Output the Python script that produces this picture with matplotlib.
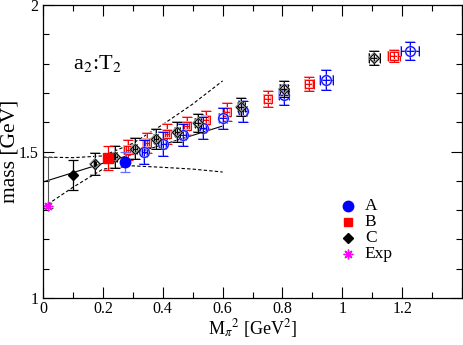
import matplotlib
matplotlib.use("Agg")
import matplotlib.pyplot as plt
from matplotlib.ticker import MultipleLocator, FuncFormatter

plt.rcParams['font.family'] = ['Liberation Serif', 'DejaVu Serif']
plt.rcParams['mathtext.fontset'] = 'stix'

# open symbols: ensemble A (blue circles)
a_x = [0.338, 0.402, 0.468, 0.535, 0.602, 0.669, 0.806, 0.946, 1.227]
a_y = [1.498, 1.526, 1.556, 1.580, 1.614, 1.638, 1.693, 1.744, 1.843]
a_xerr = [0.008, 0.009, 0.010, 0.011, 0.013, 0.014, 0.017, 0.022, 0.030]
a_yerr = [0.040, 0.040, 0.038, 0.038, 0.036, 0.036, 0.035, 0.033, 0.032]

# ensemble B (red squares)
b_x = [0.284, 0.347, 0.414, 0.480, 0.545, 0.614, 0.750, 0.890, 1.173]
b_y = [1.505, 1.529, 1.560, 1.587, 1.608, 1.635, 1.679, 1.730, 1.826]
b_xerr = [0.006, 0.007, 0.008, 0.009, 0.010, 0.011, 0.013, 0.016, 0.020]
b_yerr = [0.035, 0.035, 0.033, 0.032, 0.030, 0.030, 0.027, 0.025, 0.022]

# ensemble C (black diamonds)
c_x = [0.174, 0.241, 0.308, 0.378, 0.448, 0.518, 0.662, 0.806, 1.107]
c_y = [1.457, 1.481, 1.509, 1.543, 1.567, 1.597, 1.652, 1.713, 1.819]
c_xerr = [0.004, 0.005, 0.006, 0.007, 0.008, 0.009, 0.012, 0.014, 0.018]
c_yerr = [0.038, 0.037, 0.036, 0.034, 0.033, 0.032, 0.030, 0.028, 0.024]

# filled symbols (chiral extrapolated values)
fa_x, fa_y, fa_err = 0.274, 1.464, 0.035
fb_x, fb_y, fb_err = 0.217, 1.478, 0.042
fc_x, fc_y, fc_err = 0.100, 1.420, 0.051

# experiment and extrapolation to physical point
exp_x, exp_y = 0.0150, 1.314
phys_x, phys_y, phys_err = 0.0150, 1.394, 0.087

# linear fit and its error band
fit_x = [0.0, 0.6]
fit_y = [1.396, 1.587]
band_x = [0.0, 0.1, 0.2, 0.3, 0.4, 0.5, 0.6]
band_hi = [1.481, 1.479, 1.485, 1.528, 1.592, 1.662, 1.741]
band_lo = [1.309, 1.378, 1.440, 1.451, 1.446, 1.440, 1.430]

legend_labels = ['A', 'B', 'C', 'Exp']
legend_colors = ['#0000ff', '#ff0000', 'black', '#ff00ff']

fig = plt.figure(figsize=(4.63, 3.45), dpi=100)
ax = fig.add_axes([0.093, 0.1362, 0.905, 0.8493])

ax.plot(fit_x, fit_y, color='black', lw=0.8)
ax.plot(band_x, band_hi, color='black', lw=0.8, ls=(0, (3, 2)))
ax.plot(band_x, band_lo, color='black', lw=0.8, ls=(0, (3, 2)))

ax.errorbar([phys_x], [phys_y], yerr=[phys_err], fmt='none', ecolor='#555555',
            elinewidth=0.8, capsize=3.5, capthick=0.8)


def open_set(xs, ys, xe, ye, marker, col, pale, ms):
    ax.errorbar(xs, ys, xerr=xe, yerr=ye, fmt='none', ecolor=pale,
                elinewidth=1.3, capsize=3.6, capthick=1.3)
    ax.errorbar(xs, ys, xerr=xe, yerr=ye, fmt='none', ecolor=col,
                elinewidth=0.7, capsize=3.3, capthick=0.7)
    ax.plot(xs, ys, ls='none', marker=marker, ms=ms, mfc='none', mec=pale, mew=1.4)
    ax.plot(xs, ys, ls='none', marker=marker, ms=ms, mfc='none', mec=col, mew=0.7)


open_set(b_x, b_y, b_xerr, b_yerr, 's', '#ff0000', '#ffa0a0', 6)
open_set(a_x, a_y, a_xerr, a_yerr, 'o', '#0000ff', '#a0a0ff', 7)
open_set(c_x, c_y, c_xerr, c_yerr, 'D', '#000000', '#a0a0a0', 5)

ax.errorbar([fc_x], [fc_y], yerr=[fc_err], fmt='D', color='black', ms=5.5,
            elinewidth=0.9, capsize=3.5, capthick=0.9)
ax.errorbar([fb_x], [fb_y], yerr=[fb_err], fmt='s', color='#ff0000', ms=6.5,
            elinewidth=0.9, capsize=3.5, capthick=0.9)
ax.errorbar([fa_x], [fa_y], yerr=[fa_err], fmt='o', color='#0000ff', ms=7.5,
            ecolor='#6a6aff', elinewidth=0.9, capsize=3.5, capthick=0.9)
ax.plot([exp_x], [exp_y], ls='none', marker=(8, 2, 0), ms=7, color='#ff00ff', mew=1)

ax.text(0.1, 1.80, r'a$_2$:T$_2$', fontsize=16, va='center', ha='left')

# legend, drawn by hand
leg_markers = ['o', 's', 'D', (8, 2, 0)]
leg_sizes = [7.5, 5.5, 5.5, 7]
leg_y = [0.314, 0.259, 0.206, 0.150]
for lab, col, mk, sz, yy in zip(legend_labels, legend_colors, leg_markers, leg_sizes, leg_y):
    ax.plot([0.728], [yy], transform=ax.transAxes, ls='none', marker=mk, ms=sz,
            color=col, mew=1, clip_on=False)
    ax.text(0.768, yy, lab, transform=ax.transAxes, fontsize=12.5, va='center', ha='left')

ax.set_xlim(0, 1.4)
ax.set_ylim(1, 2)
ax.xaxis.set_major_locator(MultipleLocator(0.2))
ax.xaxis.set_minor_locator(MultipleLocator(0.1))
ax.yaxis.set_major_locator(MultipleLocator(0.5))
ax.yaxis.set_minor_locator(MultipleLocator(0.1))
fmt = FuncFormatter(lambda v, p: ('%g' % round(v, 2)) if v < 1.39 else '')
ax.xaxis.set_major_formatter(fmt)
ax.yaxis.set_major_formatter(FuncFormatter(lambda v, p: '%g' % round(v, 2)))
ax.tick_params(which='both', direction='in', top=True, right=True, labelsize=11.5)
ax.tick_params(which='major', length=8, width=0.8)
ax.tick_params(which='minor', length=4, width=0.8)
ax.tick_params(axis='x', pad=2)
for s in ax.spines.values():
    s.set_linewidth(0.9)

ax.set_xlabel(r'M$_\pi$$^2$ [GeV$^2$]', fontsize=13, labelpad=0)
ax.set_ylabel('mass [GeV]', fontsize=15.5, labelpad=-1)

fig.savefig('out.png', dpi=100)
